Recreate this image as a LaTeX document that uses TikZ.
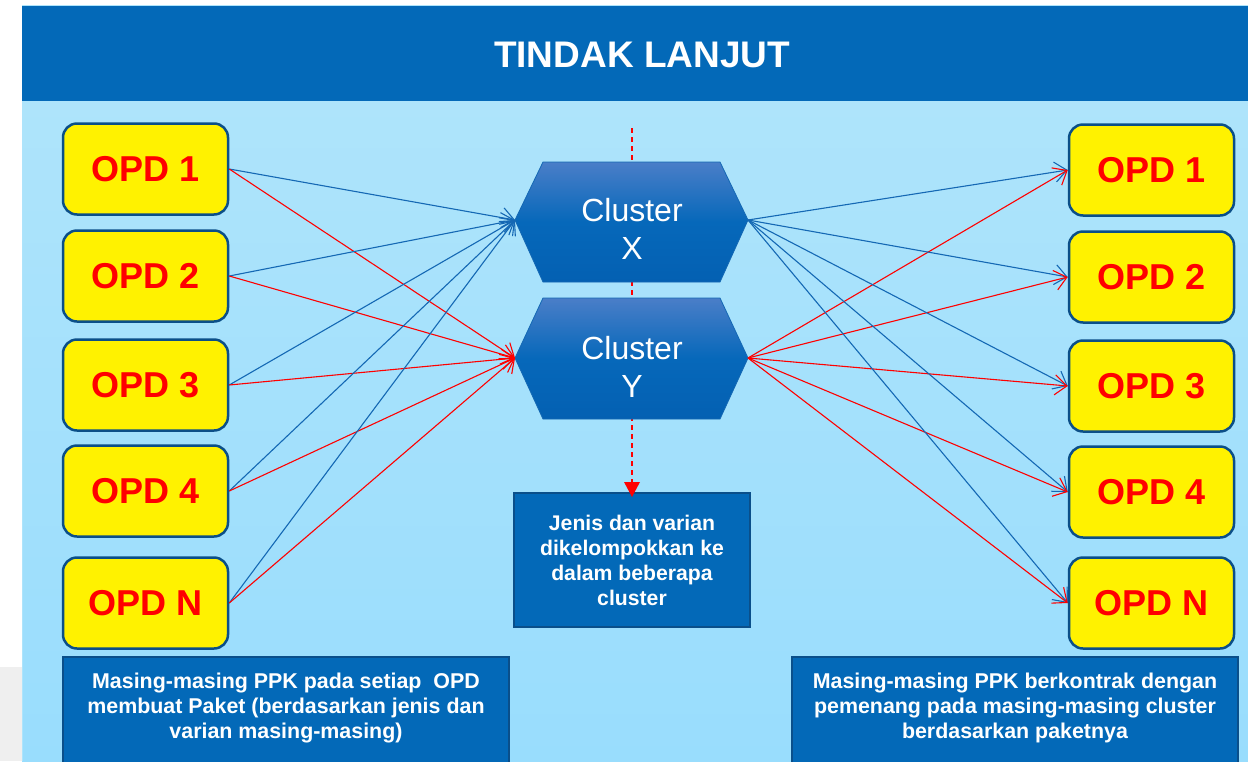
\documentclass[tikz,border=0pt]{standalone}
\usepackage{fontspec}
\setmainfont{Liberation Sans}
\usetikzlibrary{arrows.meta}
\definecolor{barblue}{HTML}{0369B8}
\definecolor{bgtop}{HTML}{AEE4FB}
\definecolor{bgbot}{HTML}{99DDFD}
\definecolor{opdborder}{HTML}{0B4F88}
\definecolor{boxborder}{HTML}{0A4F8A}
\definecolor{linkblue}{HTML}{1468B4}
\definecolor{hextop}{HTML}{4A7EC8}
\definecolor{hexmid}{HTML}{0668BA}
\definecolor{hexbot}{HTML}{0460B2}
\definecolor{opdred}{HTML}{FF0000}
\definecolor{panelgrey}{HTML}{EFEFEF}
\begin{document}
\begin{tikzpicture}[x=1pt,y=-1pt,
  opd/.style={draw=opdborder, line width=2.5pt, rounded corners=14pt, fill=yellow,
    minimum width=165pt, minimum height=91pt, inner sep=0pt,
    font=\fontsize{36}{36}\selectfont\bfseries, text=opdred},
  infobox/.style={draw=boxborder, line width=2pt, fill=barblue, inner sep=0pt,
    text=white, align=center},
  infotext/.style={text=white, align=center, font=\fontsize{21.4}{25}\selectfont\bfseries},
  bluelink/.style={draw=linkblue, line width=1.1pt, -{Straight Barb[length=12pt,width=20pt]}},
  redlink/.style={draw=red, line width=1.1pt, -{Straight Barb[length=12pt,width=20pt]}},
  hexa/.style={draw=linkblue, line width=0.8pt, top color=hextop, bottom color=hexbot, middle color=hexmid},
  clustertext/.style={text=white, align=center, font=\fontsize{32}{38}\selectfont}
]
\useasboundingbox (0,0) rectangle (1248,761);
% page and panel
\fill[white] (0,0) rectangle (1248,761);
\fill[panelgrey] (0,667) rectangle (22,761);
\shade[top color=bgtop, bottom color=bgbot] (22,101) rectangle (1248,761);
\draw[color=bgtop, line width=1pt] (22,5) -- (22,761);
\fill[barblue] (22,5) rectangle (1248,101);
\draw[color=bgtop, line width=1pt] (22,5) -- (1248,5);
\node[text=white, font=\fontsize{37}{37}\selectfont\bfseries] (title) at (642,55) {TINDAK LANJUT};

% left OPD boxes
\node[opd] (L1) at (145.5,169) {OPD 1};
\node[opd] (L2) at (145.5,276) {OPD 2};
\node[opd] (L3) at (145.5,385) {OPD 3};
\node[opd] (L4) at (145.5,491) {OPD 4};
\node[opd] (L5) at (145.5,603) {OPD N};
% right OPD boxes
\node[opd] (R1) at (1151.5,170) {OPD 1};
\node[opd] (R2) at (1151.5,277) {OPD 2};
\node[opd] (R3) at (1151.5,386) {OPD 3};
\node[opd] (R4) at (1151.5,492) {OPD 4};
\node[opd] (R5) at (1151.5,603) {OPD N};

% info boxes
\node[infobox, minimum width=236pt, minimum height=134pt,
  font=\fontsize{21.2}{25}\selectfont\bfseries] (jenis) at (632,560)
  {Jenis dan varian\\dikelompokkan ke\\dalam beberapa\\cluster};
\node[infobox, minimum width=446pt, minimum height=114pt, anchor=north] (botL) at (286,656) {};
\node[infotext] (botLt) at (286,708)
  {Masing-masing PPK pada setiap\ \ OPD\\membuat Paket (berdasarkan jenis dan\\varian masing-masing)};
\node[infobox, minimum width=446pt, minimum height=114pt, anchor=north] (botR) at (1015,656) {};
\node[infotext] (botRt) at (1015,708)
  {Masing-masing PPK berkontrak dengan\\pemenang pada masing-masing cluster\\berdasarkan paketnya};

% dashed red axis
\coordinate (dtop) at (632,128);
\coordinate (dbot) at (632,497);
\draw[red, line width=1.1pt, dash pattern=on 5pt off 4pt] (dtop) -- (632,482);
\fill[red] (624,482) -- (640,482) -- (dbot) -- cycle;

% hexagons
\coordinate (XL) at (515,220); \coordinate (XR) at (748,220);
\coordinate (YL) at (515,358); \coordinate (YR) at (748,358);
\path[hexa] (XL) -- (543,162) -- (720,162) -- (XR) -- (720,282) -- (543,282) -- cycle;
\path[hexa] (YL) -- (543,298) -- (720,298) -- (YR) -- (720,419) -- (543,419) -- cycle;
\node[clustertext] (cx) at (632,229) {Cluster\\X};
\node[clustertext] (cy) at (632,367) {Cluster\\Y};

% left links
\foreach \n in {L1,L2,L3,L4,L5}{
  \draw[bluelink] (\n.east) -- (XL);
  \draw[redlink] (\n.east) -- (YL);
}
% right links
\foreach \n in {R1,R2,R3,R4,R5}{
  \draw[bluelink] (XR) -- (\n.west);
  \draw[redlink] (YR) -- (\n.west);
}
\end{tikzpicture}
\end{document}
